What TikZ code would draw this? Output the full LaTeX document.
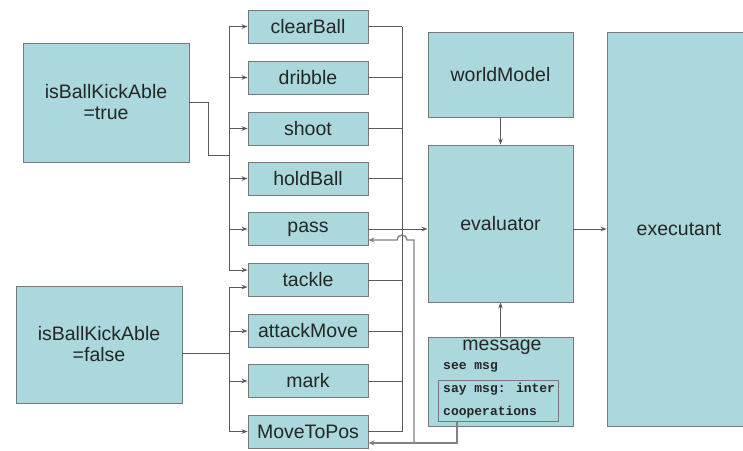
\documentclass[tikz,border=0pt]{standalone}
\usepackage{fontspec}
\setmainfont{Liberation Sans}
\newfontfamily\monof{Liberation Mono}
\usetikzlibrary{arrows.meta}
\definecolor{boxfill}{RGB}{170,216,221}
\definecolor{boxline}{RGB}{120,120,120}
\definecolor{linec}{RGB}{90,90,90}
\definecolor{fbc}{RGB}{130,130,130}
\begin{document}
\begin{tikzpicture}[x=1pt,y=-1pt,
 box/.style={draw=boxline,fill=boxfill,line width=0.9pt,inner sep=0pt,font=\fontsize{19.5}{21}\selectfont,align=center,text=black!85},
 act/.style={box,minimum width=120pt,minimum height=33pt},
 conn/.style={draw=linec,line width=0.9pt},
 arr/.style={conn,-{Stealth[length=6pt,width=4.5pt]}},
 fbk/.style={draw=fbc,line width=1.4pt},
 fbarr/.style={fbk,-{Stealth[length=6pt,width=5pt]}},
 mono/.style={font=\monof\bfseries\fontsize{13}{15}\selectfont,anchor=west,inner sep=0pt,text=black!85},
 ttl/.style={font=\fontsize{19.5}{21}\selectfont,inner sep=0pt,text=black!85}
]
\useasboundingbox[fill=white] (0,0) rectangle (743,450);

% condition boxes
\node[box,minimum width=166pt,minimum height=119pt] (tru) at (106,102.5) {isBallKickAble\\=true};
\node[box,minimum width=166pt,minimum height=117pt] (fal) at (99,344.5) {isBallKickAble\\=false};

% action boxes
\node[act] (clearBall) at (308,26.5) {clearBall};
\node[act] (dribble) at (308,77.5) {dribble};
\node[act] (shoot) at (308,128.5) {shoot};
\node[act] (holdBall) at (308,178.5) {holdBall};
\node[act] (pass) at (308,229) {pass};
\node[act] (tackle) at (308,280) {tackle};
\node[act] (attackMove) at (308,331) {attackMove};
\node[act] (mark) at (308,381) {mark};
\node[act] (MoveToPos) at (308,431.5) {MoveToPos};

% right column
\node[box,minimum width=145pt,minimum height=85pt] (worldModel) at (500.5,74.5) {worldModel};
\node[box,minimum width=145pt,minimum height=157pt] (evaluator) at (500.5,223.5) {evaluator};
\node[box,minimum width=145pt,minimum height=89pt] (message) at (500.5,381.5) {};
\node[box,minimum width=120pt,minimum height=41pt] (inner) at (498,400.5) {};
\node[ttl] (msgT) at (502,347) {message};
\node[mono] (see) at (443,367) {see msg};
\node[mono] (say) at (443,389) {say msg: inter};
\node[mono] (coop) at (443,412) {cooperations};
\node[box,minimum width=144pt,minimum height=394pt] (executant) at (679,229) {executant};

% junction coordinates
\coordinate (tA) at (208,155);
\coordinate (bT) at (229,155);
\coordinate (bF) at (229,353);
\coordinate (rB) at (402,229);
\coordinate (fbA) at (457,443);
\coordinate (fbB) at (414,443);
\coordinate (fbC) at (414,240);
\coordinate (hopR) at (407,240);
\coordinate (tU) at ([yshift=10pt]tackle.west);
\coordinate (tL) at ([yshift=-7pt]tackle.west);

% true bus
\draw[conn] (tru.east) -| (tA) -- (bT);
\draw[conn] (bT |- clearBall.west) -- (bT |- tU);
\foreach \n in {clearBall,dribble,shoot,holdBall,pass}
  \draw[arr] (bT |- \n.west) -- (\n.west);
\draw[arr] (bT |- tU) -- (tU);

% false bus
\draw[conn] (fal.east |- bF) -- (bF);
\draw[conn] (bF |- tL) -- (bF |- MoveToPos.west);
\draw[arr] (bF |- tL) -- (tL);
\foreach \n in {attackMove,mark,MoveToPos}
  \draw[arr] (bF |- \n.west) -- (\n.west);

% right bus
\foreach \n in {clearBall,dribble,shoot,holdBall,pass,tackle,attackMove,mark,MoveToPos}
  \draw[conn] (\n.east) -- (rB |- \n.east);
\draw[conn] (rB |- clearBall.east) -- (rB |- MoveToPos.east);
\draw[arr] (rB) -- (evaluator.west |- rB);

% main flow
\draw[arr] (evaluator.east |- rB) -- (executant.west |- rB);
\draw[arr] (worldModel.south) -- (evaluator.north);
\draw[arr] (message.north) -- (evaluator.south);

% feedback
\draw[fbarr] (inner.south -| fbA) -- (fbA) -- (MoveToPos.east |- fbA);
\draw[fbarr] (fbB) -- (fbC) -- (hopR) arc[start angle=0,end angle=180,radius=5pt] -- (pass.east |- fbC);
\end{tikzpicture}
\end{document}
